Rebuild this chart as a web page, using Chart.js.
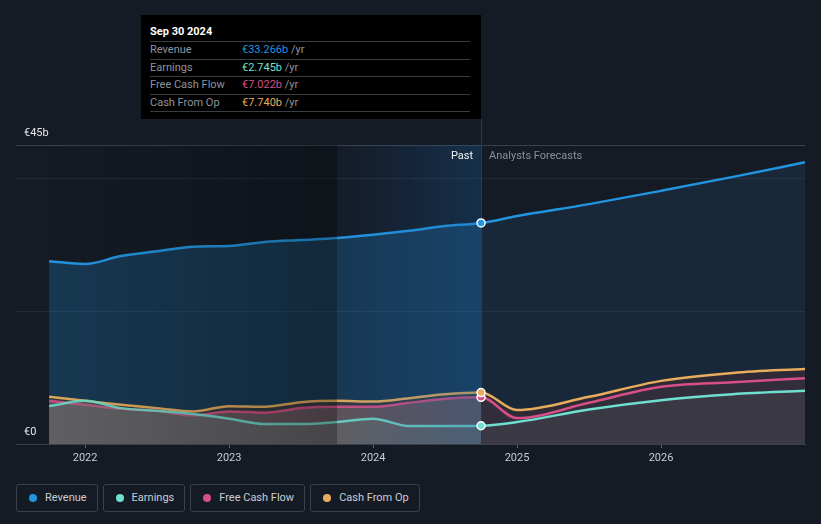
<!DOCTYPE html>
<html>
<head>
<meta charset="utf-8">
<script src="https://cdn.jsdelivr.net/npm/chart.js@4.4.1/dist/chart.umd.min.js"></script>
<style>
body{margin:0;background:#151b25;width:821px;height:524px;overflow:hidden;font-family:Roboto,"Open Sans",sans-serif;position:relative}
#c{position:absolute;left:0;top:0}
#tip{position:absolute;left:141px;top:15px;width:340px;height:104px;background:#000;box-sizing:border-box;padding:0 11px 0 9px;font-size:11px;color:#8e949b}
#tip .t{padding-top:10px;line-height:14px;height:16px;color:#fff;font-weight:bold;border-bottom:1px solid #3a3d42}
#tip .r{height:16.5px;line-height:16.5px;border-bottom:1px solid #3a3d42;white-space:nowrap}
#tip .l{display:inline-block;width:92px}
#legend{position:absolute;left:16px;top:484px;display:flex;gap:5px}
#legend div{height:26px;line-height:26px;border:1px solid #3b414b;border-radius:3px;padding:0 10px 0 12px;font-size:11px;color:#c9cdd2;white-space:nowrap}
#legend i{display:inline-block;width:8px;height:8px;border-radius:50%;margin-right:8px;vertical-align:-0.5px}
</style>
</head>
<body>
<canvas id="c" width="821" height="470"></canvas>
<div id="tip">
  <div class="t">Sep 30 2024</div>
  <div class="r"><span class="l">Revenue</span><span style="color:#2394df">€33.266b</span> /yr</div>
  <div class="r"><span class="l">Earnings</span><span style="color:#6fe0cf">€2.745b</span> /yr</div>
  <div class="r"><span class="l">Free Cash Flow</span><span style="color:#d64f86">€7.022b</span> /yr</div>
  <div class="r"><span class="l">Cash From Op</span><span style="color:#e8ac5c">€7.740b</span> /yr</div>
</div>
<div id="legend">
  <div><i style="background:#2394df"></i>Revenue</div>
  <div><i style="background:#6fe0cf"></i>Earnings</div>
  <div><i style="background:#d64f86"></i>Free Cash Flow</div>
  <div><i style="background:#e8ac5c"></i>Cash From Op</div>
</div>
<script>
// dates as fractional years, values in € billions
var pastDates = [2021.75, 2022.0, 2022.25, 2022.5, 2022.75, 2023.0, 2023.25, 2023.5, 2023.75, 2024.0, 2024.25, 2024.5, 2024.75];
var forecastDates = [2024.75, 2025.0, 2025.5, 2026.0, 2026.5, 2027.0];

var revenuePast = [27.5, 27.1, 28.3, 29.0, 29.7, 29.8, 30.4, 30.7, 31.0, 31.5, 32.1, 32.8, 33.266];
var revenueForecast = [33.266, 34.3, 36.1, 38.1, 40.2, 42.4];
var earningsPast = [5.7, 6.5, 5.4, 5.0, 4.5, 3.8, 3.0, 3.0, 3.3, 3.8, 2.7, 2.7, 2.745];
var earningsForecast = [2.745, 3.3, 5.2, 6.6, 7.5, 8.0];
var fcfPast = [6.5, 5.9, 5.3, 5.0, 4.3, 4.9, 4.7, 5.4, 5.6, 5.6, 6.2, 6.8, 7.022];
var fcfForecast = [7.022, 3.9, 6.2, 8.6, 9.3, 9.9];
var cfoPast = [7.1, 6.5, 5.9, 5.4, 4.9, 5.7, 5.6, 6.3, 6.5, 6.4, 6.9, 7.5, 7.74];
var cfoForecast = [7.74, 5.1, 7.1, 9.5, 10.7, 11.3];

var xTicks = [2022, 2023, 2024, 2025, 2026];
var yTicks = [0, 20, 40, 45];

var splitX = 2024.75;   // Sep 30 2024, last reported
var bandStart = 2023.75;

function toPoints(pastVals, futureVals) {
  var pts = [];
  for (var i = 0; i < pastDates.length; i++) pts.push({x: pastDates[i], y: pastVals[i]});
  for (var j = 1; j < forecastDates.length; j++) pts.push({x: forecastDates[j], y: futureVals[j]});
  return pts;
}

function splitFill(past, future) {
  return function (c) {
    var chart = c.chart, area = chart.chartArea;
    if (!area) return past;
    var xs = chart.scales.x.getPixelForValue(splitX);
    var f = (xs - area.left) / (area.right - area.left);
    var g = chart.ctx.createLinearGradient(area.left, 0, area.right, 0);
    g.addColorStop(0, past); g.addColorStop(f, past);
    g.addColorStop(f, future); g.addColorStop(1, future);
    return g;
  };
}

function lineSet(label, pts, color, pastColor, fillPast, fillFuture, order) {
  return {
    label: label,
    data: pts,
    order: order,
    borderColor: color,
    borderWidth: 2.5,
    pointRadius: 0,
    cubicInterpolationMode: 'monotone',
    fill: 'origin',
    backgroundColor: splitFill(fillPast, fillFuture),
    segment: {
      borderColor: function (c) { return c.p1.parsed.x <= splitX ? pastColor : color; }
    }
  };
}

// past region shading + last-year highlight, and the hover line
var shadePlugin = {
  id: 'shade',
  afterDatasetDraw: function (chart, args) {
    if (args.index !== 0) return;
    var ctx = chart.ctx, a = chart.chartArea, x = chart.scales.x;
    var x0 = x.getPixelForValue(pastDates[0]);
    var x1 = x.getPixelForValue(bandStart);
    var x2 = x.getPixelForValue(splitX);
    ctx.save();
    var g1 = ctx.createLinearGradient(x0, 0, x1, 0);
    g1.addColorStop(0, 'rgba(0,0,0,0.0)');
    g1.addColorStop(1, 'rgba(0,0,0,0.27)');
    ctx.fillStyle = g1;
    ctx.fillRect(x0, a.top, x1 - x0, a.bottom - a.top);
    var g2 = ctx.createLinearGradient(x1, 0, x2, 0);
    g2.addColorStop(0, 'rgba(25,100,170,0.02)');
    g2.addColorStop(1, 'rgba(25,100,170,0.28)');
    ctx.fillStyle = g2;
    ctx.fillRect(x1, a.top, x2 - x1, a.bottom - a.top);
    ctx.strokeStyle = '#1f3d5a';
    ctx.lineWidth = 1;
    ctx.beginPath();
    ctx.moveTo(Math.round(x2) + 0.5, 119);
    ctx.lineTo(Math.round(x2) + 0.5, a.bottom);
    ctx.stroke();
    ctx.font = '11px Roboto, sans-serif';
    ctx.textBaseline = 'middle';
    ctx.textAlign = 'right';
    ctx.fillStyle = '#f2f2f2';
    ctx.fillText('Past', x2 - 8, a.top + 11);
    ctx.textAlign = 'left';
    ctx.fillStyle = '#8a9099';
    ctx.fillText('Analysts Forecasts', x2 + 8, a.top + 11);
    ctx.restore();
  }
};

new Chart(document.getElementById('c'), {
  type: 'line',
  data: {
    datasets: [
      lineSet('Earnings', toPoints(earningsPast, earningsForecast), '#6fe0cf', 'rgba(111,224,207,0.85)', 'rgba(100,125,120,0.3)', 'rgba(90,100,110,0.2)', 1),
      lineSet('Free Cash Flow', toPoints(fcfPast, fcfForecast), '#d64f86', 'rgba(214,79,134,0.9)', 'rgba(150,110,120,0.45)', 'rgba(70,60,75,0.2)', 2),
      lineSet('Cash From Op', toPoints(cfoPast, cfoForecast), '#e8ac5c', 'rgba(232,172,92,0.95)', 'rgba(80,60,40,0.45)', 'rgba(70,45,50,0.45)', 3),
      lineSet('Revenue', toPoints(revenuePast, revenueForecast), '#2394df', '#2394df', 'rgba(35,148,223,0.24)', 'rgba(40,80,120,0.25)', 4),
      {
        label: 'hover',
        type: 'scatter',
        order: 0,
        data: [
          {x: splitX, y: revenuePast[revenuePast.length - 1]},
          {x: splitX, y: earningsPast[earningsPast.length - 1]},
          {x: splitX, y: fcfPast[fcfPast.length - 1]},
          {x: splitX, y: cfoPast[cfoPast.length - 1]}
        ],
        pointRadius: 4,
        pointBorderWidth: 1.5,
        pointBorderColor: '#ffffff',
        pointBackgroundColor: ['#2394df', '#6fe0cf', '#d64f86', '#e8ac5c']
      }
    ]
  },
  options: {
    responsive: false,
    animation: false,
    events: [],
    layout: {padding: {left: 16, right: 16, top: 145, bottom: 0}},
    plugins: {legend: {display: false}, tooltip: {enabled: false}},
    scales: {
      x: {
        type: 'linear',
        min: 2021.52,
        max: 2027.0,
        afterBuildTicks: function (s) { s.ticks = xTicks.map(function (v) { return {value: v}; }); },
        afterFit: function (s) { s.height = 26; },
        grid: {drawOnChartArea: false, drawTicks: true, tickLength: 4, color: '#5a606a'},
        border: {display: true, color: '#3b414b', width: 1},
        ticks: {
          color: '#c9ccd0',
          font: {family: 'Roboto', size: 11},
          padding: 4,
          maxRotation: 0,
          callback: function (v) { return String(v); }
        }
      },
      y: {
        min: 0,
        max: 45,
        afterBuildTicks: function (s) { s.ticks = yTicks.map(function (v) { return {value: v}; }); },
        afterFit: function (s) { s.width = 0; },
        border: {display: false},
        grid: {
          drawTicks: false,
          color: function (c) {
            if (c.tick.value === 45) return '#3b414b';
            if (c.tick.value === 0) return 'rgba(0,0,0,0)';
            return '#232a34';
          }
        },
        ticks: {
          mirror: true,
          padding: 8,
          labelOffset: -12,
          color: '#e6e6e6',
          font: {family: 'Roboto', size: 11},
          callback: function (v) { return v === 45 ? '€45b' : (v === 0 ? '€0' : ''); }
        }
      }
    }
  },
  plugins: [shadePlugin]
});
</script>
</body>
</html>
